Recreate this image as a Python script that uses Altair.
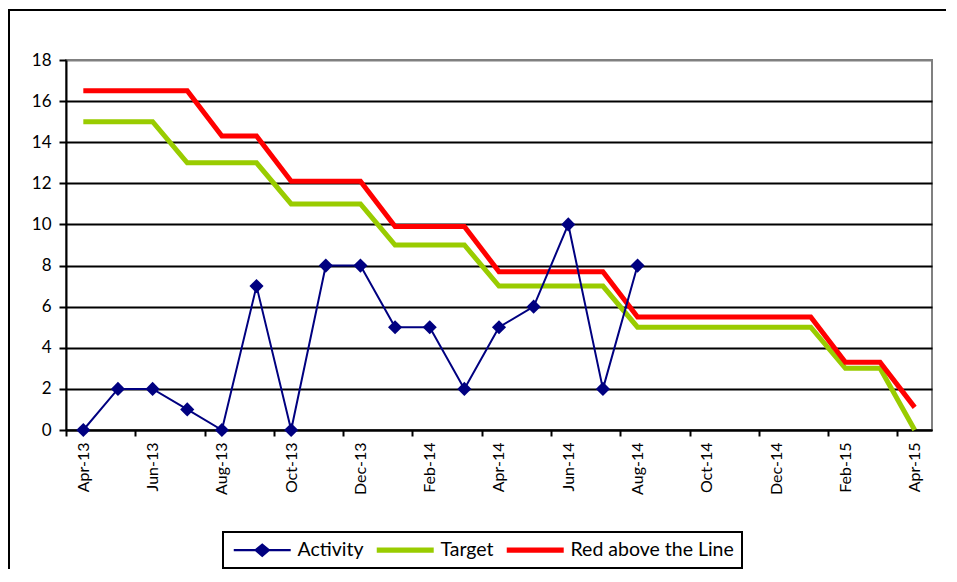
import json
import pandas as pd
import altair as alt

months = ["Apr-13", "May-13", "Jun-13", "Jul-13", "Aug-13", "Sep-13", "Oct-13", "Nov-13",
          "Dec-13", "Jan-14", "Feb-14", "Mar-14", "Apr-14", "May-14", "Jun-14", "Jul-14",
          "Aug-14", "Sep-14", "Oct-14", "Nov-14", "Dec-14", "Jan-15", "Feb-15", "Mar-15",
          "Apr-15"]
activity = [0, 2, 2, 1, 0, 7, 0, 8, 8, 5, 5, 2, 5, 6, 10, 2, 8]
target = [15, 15, 15, 13, 13, 13, 11, 11, 11, 9, 9, 9, 7, 7, 7, 7, 5, 5, 5, 5, 5, 5, 3, 3, 0]
red_line = [16.5, 16.5, 16.5, 16.5, 14.3, 14.3, 12.1, 12.1, 12.1, 9.9, 9.9, 9.9, 7.7, 7.7,
            7.7, 7.7, 5.5, 5.5, 5.5, 5.5, 5.5, 5.5, 3.3, 3.3, 1.1]
series_names = ["Activity", "Target", "Red above the Line"]
series_colors = ["#000080", "#99CC00", "#FF0000"]

rows = []
for name, vals in zip(series_names, [activity, target, red_line]):
    for i, v in enumerate(vals):
        rows.append({"idx": i, "month": months[i], "series": name, "value": v})
df = pd.DataFrame(rows)

FONT = "Lato"
label_expr = json.dumps(months).replace('"', "'") + "[round(datum.value + 0.5)]"

PLOT_W, PLOT_H = 866, 370
PAD = {"left": 58, "top": 52, "right": 15, "bottom": 140}

x_enc = alt.X(
    "idx:Q",
    scale=alt.Scale(domain=[-0.5, 24.5], nice=False, zero=False),
    axis=alt.Axis(
        values=[k - 0.5 for k in range(0, 25, 2)],
        labelExpr=label_expr,
        labelOffset=17.3,
        labelAngle=-90,
        labelFlush=False,
        labelOverlap=False,
        labelFont=FONT,
        labelFontSize=16,
        labelColor="black",
        labelPadding=6,
        tickColor="black",
        tickWidth=2,
        tickSize=6,
        domainColor="black",
        domainWidth=2,
        grid=False,
        title=None,
    ),
)
y_enc = alt.Y(
    "value:Q",
    scale=alt.Scale(domain=[0, 18], nice=False),
    axis=alt.Axis(
        values=list(range(0, 19, 2)),
        grid=True,
        gridColor=alt.condition("datum.value === 18", alt.value("#808080"), alt.value("black")),
        gridWidth=2,
        labelFont=FONT,
        labelFontSize=17,
        labelColor="black",
        labelPadding=8,
        tickColor="black",
        tickWidth=2,
        tickSize=7,
        domainColor="black",
        domainWidth=2,
        title=None,
    ),
)

base = alt.Chart(df)
one = pd.DataFrame({"f": [0]})

# outer chart frame (left and top edges; the others lie outside the picture)
frame_left = alt.Chart(one).mark_rect(color="black", strokeWidth=0).encode(
    x=alt.value(-58), x2=alt.value(-56), y=alt.value(-51), y2=alt.value(PLOT_H + PAD["bottom"] - 1)
)
frame_top = alt.Chart(one).mark_rect(color="black", strokeWidth=0).encode(
    x=alt.value(-58), x2=alt.value(PLOT_W + PAD["right"] - 1), y=alt.value(-51), y2=alt.value(-49)
)

target_line = base.transform_filter(alt.datum.series == "Target").mark_line(
    color="#99CC00", strokeWidth=5
).encode(x=x_enc, y=y_enc)

red_l = base.transform_filter(alt.datum.series == "Red above the Line").mark_line(
    color="#FF0000", strokeWidth=5
).encode(x=x_enc, y=y_enc)

act_line = base.transform_filter(alt.datum.series == "Activity").mark_line(
    color="#000080", strokeWidth=2
).encode(x=x_enc, y=y_enc)

act_pts = base.transform_filter(alt.datum.series == "Activity").mark_point(
    shape="diamond", filled=True, size=200, color="#000080", opacity=1
).encode(x=x_enc, y=y_enc)

# legend symbols in units of 7px (symbolSize 196 -> half-width 7px), extended to the right
p_act = ("M-1,-0.143H2.07L3.07,-1L4.07,-0.143H7.14V0.143H4.07L3.07,1L2.07,0.143H-1Z")
p_thick = "M-1,-0.36H7.14V0.36H-1Z"
legend_def = alt.Legend(
    orient="none", legendX=157, legendY=472, direction="horizontal", title=None,
    symbolSize=196, symbolStrokeWidth=0, labelFont=FONT, labelFontSize=19.5,
    labelColor="black", labelOffset=47, labelLimit=0, columnPadding=10, padding=8,
    strokeColor="black", symbolOpacity=1,
)
legend_layer = base.transform_filter(alt.datum.series == "Activity").mark_point(
    filled=True, size=0, opacity=1
).encode(
    x=x_enc, y=y_enc,
    color=alt.Color("series:N", scale=alt.Scale(domain=series_names, range=series_colors),
                    legend=legend_def),
    shape=alt.Shape("series:N", scale=alt.Scale(domain=series_names, range=[p_act, p_thick, p_thick]),
                    legend=legend_def),
)

chart = alt.layer(frame_left, frame_top, target_line, red_l, act_line, act_pts, legend_layer).properties(
    width=PLOT_W, height=PLOT_H,
    autosize=alt.AutoSizeParams(type="none"),
    padding=PAD,
    background="white",
).configure_view(
    stroke="#808080", strokeWidth=2
).configure_legend(strokeWidth=2)

chart.save("out.html", embed_options={"renderer": "svg", "actions": False})
